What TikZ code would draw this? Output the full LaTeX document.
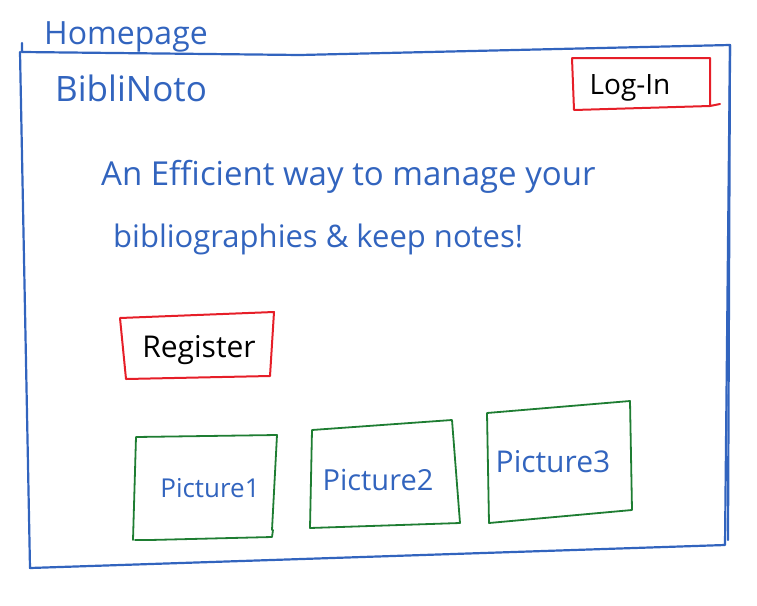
\documentclass[tikz,border=0pt]{standalone}
\usepackage{fontspec}
\setmainfont{Open Sans}
\definecolor{penblue}{RGB}{50,100,190}
\definecolor{penred}{RGB}{230,30,40}
\definecolor{pengreen}{RGB}{30,125,50}
\tikzset{
  frame/.style={draw=penblue, line width=2.2pt, line cap=round, line join=round},
  redbox/.style={draw=penred, line width=2pt, line cap=round, line join=round},
  greenbox/.style={draw=pengreen, line width=1.8pt, line cap=round, line join=round},
  bluetext/.style={text=penblue, inner sep=0pt},
  blacktext/.style={text=black, inner sep=0pt},
  pictext/.style={text=penblue, inner sep=0pt},
}
\begin{document}
\begin{tikzpicture}[x=1pt,y=-1pt]
\useasboundingbox (0,0) rectangle (757,605);
% outer frame
\draw[frame] (22,43) -- (22,52) -- (300,55) -- (730,45) -- (725,545)
  -- (30,568) -- (20,52);
\draw[frame] (730,45) -- (728,540);
% header texts
\node[bluetext, anchor=south west, font=\fontsize{32}{36}\selectfont] (home) at (44,52) {Homepage};
\node[bluetext, anchor=west, font=\fontsize{35}{40}\selectfont] (brand) at (55,88) {BibliNoto};
% log-in
\draw[redbox] (572,58) -- (710,58) -- (710,106) -- (720,104) (710,106) -- (574,110) -- (572,58);
\node[blacktext, font=\fontsize{28}{32}\selectfont] (login) at (630,88) {Log-In};
% tagline
\node[bluetext, anchor=west, font=\fontsize{33}{38}\selectfont] (tag1) at (101,177) {An Efficient way to manage your};
\node[bluetext, anchor=west, font=\fontsize{31}{36}\selectfont] (tag2) at (113,239) {bibliographies \& keep notes!};
% register
\draw[redbox] (120,318) -- (274,312) -- (270,376) -- (126,379) -- (120,318);
\node[blacktext, font=\fontsize{30}{34}\selectfont] (reg) at (199,350) {Register};
% pictures
\draw[greenbox] (136,437) -- (277,435) -- (272,530) (135,540) -- (150,540) -- (272,537) -- (273,530) (136,437) -- (133,540);
\node[pictext, font=\fontsize{26}{30}\selectfont] (p1) at (210,488) {Picture1};
\draw[greenbox] (312,430) -- (452,420) -- (460,523) -- (310,528) -- (312,430);
\node[pictext, font=\fontsize{29}{33}\selectfont] (p2) at (378,480) {Picture2};
\draw[greenbox] (487,413) -- (630,401) -- (632,510) -- (489,523) -- (487,413);
\node[pictext, font=\fontsize{30}{34}\selectfont] (p3) at (553,462) {Picture3};
\end{tikzpicture}
\end{document}
